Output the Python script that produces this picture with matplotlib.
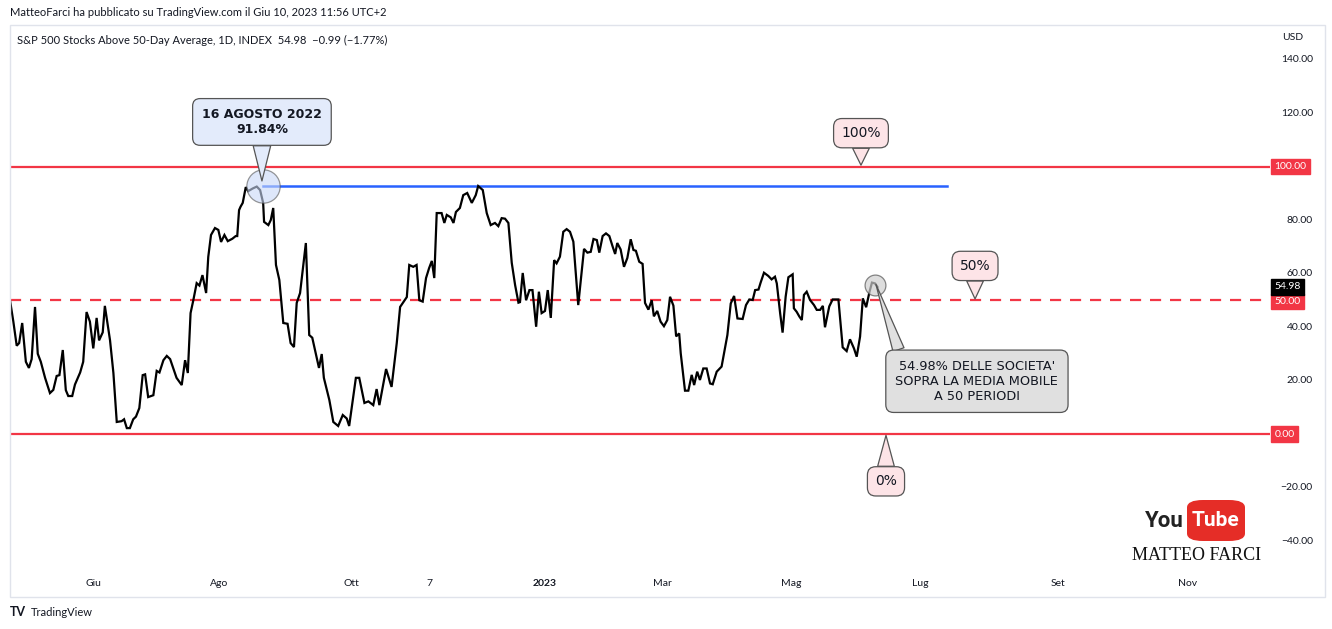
import matplotlib

matplotlib.use("Agg")
import matplotlib.pyplot as plt  # noqa: E402
import matplotlib.transforms as mtransforms  # noqa: E402
from matplotlib.patches import Rectangle, FancyBboxPatch  # noqa: E402

# S&P 500 stocks above 50-day average, daily, x = trading-bar index from left edge
bar = [0.0, 1.1, 2.2, 3.0, 4.0, 5.2, 6.2, 7.1, 8.2, 9.1, 10.1, 11.5, 13.1, 14.2, 15.3, 16.2,
       17.3, 18.3, 19.1, 20.4, 21.3, 23.0, 24.0, 25.1, 26.2, 27.3, 28.4, 29.2, 30.4, 31.1,
       32.8, 33.9, 35.0, 36.6, 37.4, 38.3, 39.3, 40.4, 41.3, 42.4, 43.5, 44.3, 45.3, 47.0,
       48.1, 49.0, 50.3, 51.4, 52.5, 54.6, 56.3, 57.4, 58.3, 59.2, 60.1, 61.2, 62.1, 63.1,
       64.3, 65.0, 65.9, 67.2, 68.3, 69.2, 70.3, 71.4, 72.9, 74.0, 74.5, 75.1, 75.6, 76.3,
       77.3, 78.1, 79.6, 80.9, 82.0, 83.0, 83.3, 84.7, 85.5, 86.3, 87.2, 88.3, 89.6, 91.0,
       92.0, 93.1, 94.0, 95.1, 97.0, 98.1, 99.1, 100.2, 101.3, 102.2, 102.9, 104.7, 106.0,
       107.6, 109.1, 110.4, 111.2, 113.4, 114.5, 116.2, 117.5, 119.1, 120.2, 121.1, 123.3,
       125.1, 126.8, 127.9, 130.1, 130.9, 132.2, 133.3, 134.2, 135.3, 136.4, 137.4, 138.3,
       139.1, 139.9, 141.5, 142.4, 143.2, 144.5, 145.4, 146.2, 147.5, 148.6, 149.9, 151.4,
       152.7, 153.5, 155.0, 156.3, 157.6, 159.0, 160.1, 161.2, 162.3, 163.4, 164.5, 165.6,
       166.7, 167.2, 168.1, 169.2, 170.3, 171.3, 172.5, 173.4, 174.3, 175.4, 176.3, 177.3,
       178.4, 179.2, 180.3, 181.4, 182.5, 183.6, 184.7, 186.3, 188.2, 189.3, 190.4, 191.3,
       192.4, 193.2, 194.3, 195.4, 196.5, 197.6, 198.4, 199.1, 200.2, 201.3, 202.4, 203.5,
       204.4, 205.2, 206.3, 207.4, 208.2, 209.3, 210.4, 211.1, 212.2, 213.3, 214.4, 215.5,
       216.4, 217.5, 218.4, 219.4, 219.9, 221.3, 222.4, 223.5, 224.3, 225.3, 226.2, 227.3,
       228.4, 229.5, 230.4, 231.7, 233.3, 235.2, 236.3, 237.4, 238.5, 240.2, 241.3, 242.4,
       243.5, 244.3, 245.4, 246.1, 247.2, 248.6, 249.7, 250.8, 251.4, 252.5, 253.3, 254.3,
       255.2, 256.6, 257.0, 257.9, 258.8, 259.6, 260.3, 261.2, 262.3, 263.6, 264.5, 265.6,
       266.5, 267.2, 268.6, 269.7, 271.6, 273.0, 274.3, 275.4, 276.7, 277.6, 278.7, 279.6,
       280.7, 281.8, 282.6, 283.6, 284.4]
pct = [50, 42, 33, 34, 41.5, 27, 24.7, 28, 47.5, 30, 27, 21, 15.3, 16.5, 21.7, 22,
       31.4, 16.4, 14.2, 14.2, 18.5, 23, 27, 45.6, 42, 32, 43.4, 35, 38, 47.9,
       35, 22.8, 4.5, 4.8, 5.5, 2.2, 2.2, 5.5, 6.5, 9.7, 22, 22.3, 13.8, 14.5,
       23.6, 23, 27.6, 29.2, 28, 21, 18.3, 27.6, 22.8, 45.2, 50, 56.4, 55.5, 59.4,
       52.7, 66.2, 74.4, 77, 76.3, 71.8, 74.4, 72.1, 73, 74, 74, 83.7, 85, 86.4,
       92.3, 90.8, 91.8, 92.5, 91.2, 86.4, 79.3, 78.1, 80, 84.5, 63.2, 57.6, 41.5, 41.2,
       34, 32.5, 49, 52.7, 71.4, 37, 36, 30.3, 24.7, 29.9, 21, 12.7, 4.5,
       3, 7.1, 5.8, 3, 21, 21, 11.6, 12.2, 10.8, 16.8, 10.8, 24.3,
       17.6, 34, 47.5, 51.2, 63.2, 62.5, 63.2, 50, 49.5, 58.3, 62, 64.7,
       58.3, 82.6, 82.6, 78.9, 81.9, 81, 78.9, 83, 84.5, 89.3, 90.1, 86.4,
       89.3, 92.7, 91.2, 82.6, 78.1, 78.9, 77.7, 80.7, 80.5, 78.9, 64, 55.7,
       49.1, 49.3, 60.2, 50, 53.8, 53.8, 40.1, 53.2, 45.2, 46, 53.8, 43.4,
       65, 63.8, 66.3, 75.6, 76.6, 75.6, 71.9, 48.2, 69.2, 67.8, 68.1, 72.9,
       72.5, 67.8, 74, 75, 74, 70, 67.3, 71.4, 69, 62.5, 65.8, 72.8,
       68.8, 68.5, 64.4, 63.6, 49, 46.5, 50, 44, 46, 42, 40.3, 42.6,
       51.3, 48, 36.5, 37.6, 30.2, 16.2, 16.2, 22.1, 18.3, 23.3, 20.2, 24.5,
       24.5, 18.9, 18.6, 23.3, 25.2, 37, 48.8, 51.6, 43.2, 43, 48.2, 50.3,
       50.1, 53.8, 54, 56.6, 60.3, 59.1, 57.8, 58.8, 56.3, 45.1, 37.9, 51.3,
       58.6, 59.7, 47, 45.7, 43.9, 42.6, 52, 53.2, 50.1, 48.2, 46.4, 46.4,
       47.9, 39.9, 47.7, 50.3, 50.3, 32.4, 31, 35.4, 32, 28.9, 36.4, 50.7,
       47.4, 53.2, 56.6, 56.3, 54.98]

month_bars = [27.2, 68.5, 111.8, 137.4, 175.4, 213.8, 256.1, 298.4, 343.6, 386.2]
month_labels = ["Giu", "Ago", "Ott", "7", "2023", "Mar", "Mag", "Lug", "Set", "Nov"]
price_ticks = [140, 120, 80, 60, 40, 20, -20, -40]

peak_bar, peak_val = 82.9, 92.6       # 16 agosto 2022 high
peak_end_bar = 307.2                  # end of the blue horizontal
last_bar, last_val = 284.4, 54.98

RED = "#f23645"
BLUE = "#2962ff"
TXT = "#131722"
FONT = ["Lato", "DejaVu Sans"]

fig = plt.figure(figsize=(13.32, 6.29), dpi=100)
fig.patch.set_facecolor("white")
ax = fig.add_axes([10 / 1332, 1 - 570 / 629, 1260 / 1332, 542 / 629])
ax.set_xlim(0, 413.1)
ax.set_ylim(-50.84, 151.78)
for s in ax.spines.values():
    s.set_visible(False)
ax.set_xticks([])
ax.set_yticks([])

# panel frame
fig.add_artist(Rectangle((10 / 1332, 1 - 597 / 629), 1315 / 1332, 572 / 629,
                         transform=fig.transFigure, fill=False, ec="#e0e3eb", lw=1))

# levels
ax.axhline(100, color=RED, lw=1.6, zorder=2)
ax.axhline(0, color=RED, lw=1.6, zorder=2)
ax.axhline(50, color=RED, lw=1.6, ls=(0, (5, 4)), zorder=2)
ax.plot([peak_bar, peak_end_bar], [peak_val, peak_val], color=BLUE, lw=1.8, zorder=3)

ax.plot(bar, pct, color="black", lw=1.6, zorder=4, solid_joinstyle="miter")

# circles
ax.plot([peak_bar], [peak_val], "o", ms=24, mfc="#c9d8f7", mec="#555555", mew=0.9,
        alpha=0.6, zorder=5)
ax.plot([last_bar - 0.8], [last_val + 0.8], "o", ms=15, mfc="#cfcfcf", mec="#555555",
        mew=0.9, alpha=0.7, zorder=5)


def callout(text, xy, off, fc, fs=10, weight="normal", relpos=(0.5, 0.5), tw=1.2, pad=0.6):
    ax.annotate(text, xy=xy, xytext=off, textcoords="offset pixels",
                ha="center", va="center", fontsize=fs, fontweight=weight, color=TXT,
                family="DejaVu Sans", zorder=6, multialignment="center",
                bbox=dict(boxstyle=f"round,pad={pad},rounding_size=0.6", fc=fc, ec="#555555", lw=0.9),
                arrowprops=dict(arrowstyle=f"wedge,tail_width={tw}", fc=fc, ec="#555555",
                                lw=0.9, relpos=relpos, shrinkA=0, shrinkB=0))


callout("16 AGOSTO 2022\n91.84%", (peak_bar - 0.3, peak_val + 2), (0, 59), "#e3ebfb",
        fs=9, weight="bold", tw=1.4, pad=0.75)
callout("100%", (279.0, 100.5), (0, 32), "#fde4e7", pad=0.55)
callout("50%", (316.4, 50.5), (0, 33), "#fde4e7", pad=0.55)
callout("0%", (287.2, -0.5), (0, -46), "#fde4e7", pad=0.55)
callout("54.98% DELLE SOCIETA'\nSOPRA LA MEDIA MOBILE\nA 50 PERIODI", (last_bar - 0.5, last_val + 1),
        (101, -97), "#e0e0e0", fs=9.3, relpos=(0.04, 1.0), tw=0.9, pad=0.75)

# price axis
ytr = mtransforms.blended_transform_factory(ax.transAxes, ax.transData)
for v in price_ticks:
    ax.text(1.034, v, f"{v:.2f}".replace("-", "\u2212"), transform=ytr, ha="right",
            va="center", fontsize=7.5, color=TXT, family=FONT, clip_on=False)
for v, y in [(100, 100), (50, 49.6), (0, 0)]:
    ax.text(1.0035, y, f"{v:.2f}", transform=ytr, ha="left", va="center", fontsize=7.5,
            color="white", family=FONT, clip_on=False,
            bbox=dict(boxstyle="square,pad=0.3", fc=RED, ec=RED))
ax.text(1.0035, last_val, f"{last_val:.2f}", transform=ytr, ha="left", va="center",
        fontsize=7.5, color="white", family=FONT, clip_on=False,
        bbox=dict(boxstyle="square,pad=0.3", fc="black", ec="black"))
fig.text(1282 / 1332, 1 - 37 / 629, "USD", fontsize=7.5, color=TXT, family=FONT, va="center")

# time axis
xtr = mtransforms.blended_transform_factory(ax.transData, fig.transFigure)
for b, lab in zip(month_bars, month_labels):
    ax.text(b, 1 - 583 / 629, lab, transform=xtr, ha="center", va="center", fontsize=7.5,
            color=TXT, family=FONT, fontweight="bold" if lab == "2023" else "normal")

# header / footer
fig.text(10 / 1332, 1 - 13 / 629, "MatteoFarci ha pubblicato su TradingView.com il Giu 10, 2023 11:56 UTC+2",
         fontsize=8, color=TXT, family=FONT, va="center")
fig.text(17 / 1332, 1 - 40 / 629,
         "S&P 500 Stocks Above 50-Day Average, 1D, INDEX  54.98  \u22120.99 (\u22121.77%)",
         fontsize=8, color=TXT, family=FONT, va="center")
fig.text(10 / 1332, 1 - 612 / 629, "TV", fontsize=9, fontweight="bold", color=TXT,
         family=FONT, va="center")
fig.text(31 / 1332, 1 - 612 / 629, "TradingView", fontsize=8, color=TXT, family=FONT,
         va="center")

# youtube watermark
fig.add_artist(FancyBboxPatch((1187 / 1332, 1 - 541 / 629), 58 / 1332, 41 / 629,
                              boxstyle="round,pad=0,rounding_size=0.012",
                              transform=fig.transFigure, fc="#e52d27", ec="none"))
NARROW = ["Liberation Sans Narrow", "Roboto", "DejaVu Sans"]
fig.text(1184 / 1332, 1 - 521 / 629, "You", fontsize=16, fontweight="bold", color="#222222",
         family=NARROW, ha="right", va="center")
fig.text(1216 / 1332, 1 - 521 / 629, "Tube", fontsize=15, fontweight="bold", color="white",
         family=NARROW, ha="center", va="center")
fig.text(1197 / 1332, 1 - 556 / 629, "MATTEO FARCI", fontsize=13, color="#111111",
         family=["Liberation Serif", "DejaVu Serif"], ha="center", va="center")

fig.savefig("out.png", dpi=100)
